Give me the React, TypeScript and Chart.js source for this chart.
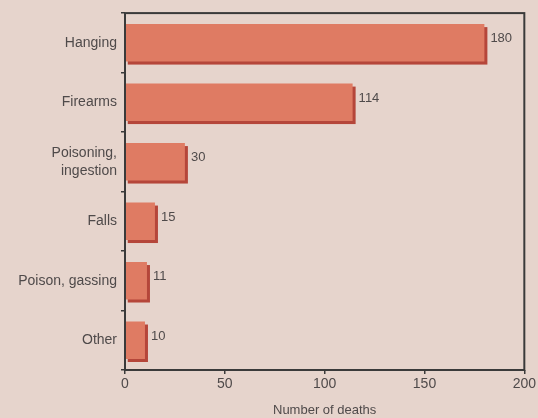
import React, { useEffect, useRef } from "react";
import { Chart, registerables } from "chart.js";

Chart.register(...registerables);

const categories: (string | string[])[] = [
  "Hanging",
  "Firearms",
  ["Poisoning,", "ingestion"],
  "Falls",
  "Poison, gassing",
  "Other",
];
const deaths = [180, 114, 30, 15, 11, 10];
const xTicks = [0, 50, 100, 150, 200];
const xTitle = "Number of deaths";

const BG = "#e6d4cc";
const BAR = "#df7b63";
const SHADOW = "#b5463a";
const TEXT = "#4f4a4a";
const AXIS = "#3a3a3a";
const FONT = "'Liberation Sans', Arial, sans-serif";
const SH = 3;

const framePlugin = {
  id: "frame",
  beforeDraw(chart: any) {
    const { ctx, width, height } = chart;
    ctx.save();
    ctx.fillStyle = BG;
    ctx.fillRect(0, 0, width, height);
    ctx.restore();
  },
  beforeDatasetsDraw(chart: any) {
    const { ctx } = chart;
    const meta = chart.getDatasetMeta(0);
    ctx.save();
    ctx.fillStyle = SHADOW;
    meta.data.forEach((bar: any) => {
      const h = bar.height;
      const top = bar.y - h / 2;
      ctx.fillRect(bar.base + 2, top + SH, bar.x - bar.base + SH - 2, h);
    });
    ctx.restore();
  },
  afterDraw(chart: any) {
    const { ctx, chartArea } = chart;
    ctx.save();
    ctx.strokeStyle = AXIS;
    ctx.lineWidth = 2;
    ctx.strokeRect(chartArea.left, chartArea.top, chartArea.right - chartArea.left, chartArea.bottom - chartArea.top);
    const meta = chart.getDatasetMeta(0);
    ctx.fillStyle = TEXT;
    ctx.font = `13px ${FONT}`;
    ctx.textAlign = "left";
    ctx.textBaseline = "middle";
    meta.data.forEach((bar: any, i: number) => {
      const v = chart.data.datasets[0].data[i];
      ctx.fillText(String(v), bar.x + SH + 3, bar.y - 4);
    });
    ctx.restore();
  },
};

export default function App() {
  const ref = useRef<HTMLCanvasElement | null>(null);
  useEffect(() => {
    document.body.style.margin = "0";
    const chart = new Chart(ref.current!, {
      type: "bar",
      data: {
        labels: categories,
        datasets: [
          {
            data: deaths,
            backgroundColor: BAR,
            borderWidth: 0,
            barPercentage: 0.63,
            categoryPercentage: 1,
          },
        ],
      },
      options: {
        indexAxis: "y",
        animation: false,
        responsive: false,
        layout: { padding: { top: 12, right: 13, left: 0, bottom: 0 } },
        plugins: { legend: { display: false }, tooltip: { enabled: false } },
        scales: {
          x: {
            min: 0,
            max: 200,
            afterBuildTicks: (s: any) => {
              s.ticks = xTicks.map((v) => ({ value: v }));
            },
            afterFit: (s: any) => {
              s.height = 48;
            },
            grid: { display: true, drawOnChartArea: false, tickLength: 4, color: AXIS, lineWidth: 1.5 },
            border: { display: false },
            ticks: { color: TEXT, font: { family: FONT, size: 14 }, padding: 2, maxRotation: 0 },
            title: {
              display: true,
              text: xTitle,
              color: TEXT,
              font: { family: FONT, size: 13 },
              padding: { top: 0, bottom: 0 },
            },
          },
          y: {
            afterFit: (s: any) => {
              s.width = 125;
            },
            grid: { display: true, drawOnChartArea: false, tickLength: 4, color: AXIS, lineWidth: 1.5, offset: true },
            border: { display: false },
            ticks: { color: TEXT, font: { family: FONT, size: 14, lineHeight: 1.3 }, padding: 4 },
          },
        },
      },
      plugins: [framePlugin],
    });
    return () => chart.destroy();
  }, []);
  return <canvas ref={ref} width={538} height={418} style={{ display: "block" }} />;
}
